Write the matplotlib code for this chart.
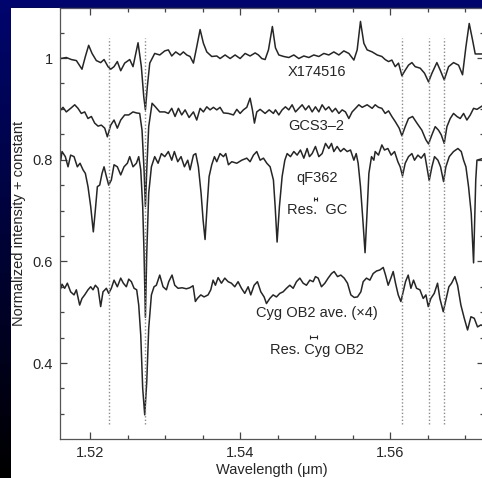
import numpy as np
import matplotlib
matplotlib.use('Agg')
import matplotlib.pyplot as plt
from matplotlib.patches import Rectangle
from matplotlib.ticker import MultipleLocator

plt.rcParams['font.family'] = ['Liberation Sans', 'DejaVu Sans']

# spectra (wavelength in um, normalized intensity + constant)
x174516_wl = [1.5161, 1.51684, 1.51751, 1.51818, 1.51893, 1.51938, 1.51982, 1.52027, 1.52084, 1.52142,
              1.52187, 1.5224, 1.52276, 1.5232, 1.52364, 1.52409, 1.52462, 1.52529, 1.52573, 1.5264,
              1.52684, 1.52716, 1.52738, 1.52764, 1.52796, 1.52862, 1.52929, 1.52996, 1.53044, 1.53089,
              1.53142, 1.532, 1.53244, 1.53289, 1.53333, 1.53378, 1.53422, 1.53467, 1.53511, 1.53556,
              1.53622, 1.53689, 1.53733, 1.538, 1.53867, 1.53933, 1.54, 1.54067, 1.54133, 1.542,
              1.54244, 1.54289, 1.54333, 1.54378, 1.5443, 1.54471, 1.54516, 1.54582, 1.54649, 1.54716,
              1.54782, 1.54849, 1.54916, 1.54982, 1.55049, 1.55116, 1.55182, 1.55249, 1.55316, 1.55382,
              1.55449, 1.55516, 1.5556, 1.55604, 1.55649, 1.55693, 1.5576, 1.55827, 1.55889, 1.55933,
              1.55978, 1.56022, 1.56067, 1.56111, 1.56156, 1.562, 1.56244, 1.56289, 1.56333, 1.564,
              1.56458, 1.56511, 1.56556, 1.56622, 1.56667, 1.5672, 1.56778, 1.56844, 1.56911, 1.56964,
              1.57009, 1.57053, 1.57098, 1.57133, 1.5725]
x174516_int = [0.999, 1.001, 0.997, 0.995, 0.978, 1.003, 1.025, 1.009, 0.995, 0.991,
               0.997, 0.983, 0.978, 0.983, 0.993, 0.975, 0.990, 0.997, 0.983, 1.030,
               0.983, 0.924, 0.898, 0.944, 0.990, 1.009, 1.006, 1.014, 1.016, 1.004,
               1.012, 1.006, 1.012, 1.006, 1.003, 0.990, 1.022, 1.056, 1.029, 1.012,
               1.003, 1.004, 0.999, 1.006, 0.999, 1.006, 0.999, 1.009, 1.004, 1.010,
               1.006, 0.999, 0.997, 1.016, 1.062, 1.020, 1.006, 1.003, 1.001, 1.006,
               0.999, 1.004, 1.001, 1.006, 1.003, 1.009, 1.006, 1.012, 1.006, 1.014,
               1.009, 0.996, 1.016, 1.072, 1.029, 1.016, 1.012, 1.006, 1.003, 0.997,
               0.993, 0.996, 0.983, 0.990, 0.965, 0.976, 0.986, 0.991, 0.983, 0.980,
               0.970, 0.953, 0.970, 0.991, 0.976, 0.957, 0.983, 0.991, 0.986, 0.967,
               1.022, 1.068, 1.035, 1.008, 1.008]

gcs3_wl = [1.5161, 1.5164, 1.51684, 1.51742, 1.51796, 1.5184, 1.51884, 1.51929, 1.51973, 1.52018,
           1.52062, 1.52107, 1.52151, 1.52196, 1.52231, 1.52276, 1.5232, 1.52364, 1.52409, 1.52462,
           1.52516, 1.52573, 1.52618, 1.52662, 1.52693, 1.5272, 1.52738, 1.52756, 1.52782, 1.52827,
           1.52871, 1.52929, 1.52996, 1.53044, 1.53089, 1.53133, 1.53178, 1.53222, 1.53267, 1.5332,
           1.53378, 1.53422, 1.53467, 1.53511, 1.53556, 1.536, 1.53644, 1.53689, 1.53733, 1.53778,
           1.53844, 1.53911, 1.53956, 1.54, 1.54044, 1.54089, 1.54133, 1.54164, 1.54191, 1.54222,
           1.54267, 1.54333, 1.54387, 1.54444, 1.54471, 1.54516, 1.5456, 1.54604, 1.54649, 1.54693,
           1.54738, 1.54782, 1.54827, 1.54871, 1.54916, 1.5496, 1.55004, 1.55049, 1.55093, 1.55138,
           1.55182, 1.55227, 1.55271, 1.55316, 1.5536, 1.55404, 1.55449, 1.55493, 1.55538, 1.55582,
           1.55627, 1.55693, 1.5576, 1.558, 1.55844, 1.55889, 1.55933, 1.55978, 1.56022, 1.56067,
           1.5612, 1.56156, 1.562, 1.56244, 1.56298, 1.56356, 1.56422, 1.56476, 1.56511, 1.56556,
           1.566, 1.56644, 1.5668, 1.5672, 1.56756, 1.568, 1.56844, 1.56889, 1.56933, 1.56978,
           1.57022, 1.57067, 1.57111, 1.57156, 1.5725]
gcs3_int = [0.898, 0.903, 0.894, 0.901, 0.908, 0.901, 0.891, 0.894, 0.881, 0.885,
            0.872, 0.866, 0.868, 0.862, 0.845, 0.868, 0.878, 0.862, 0.878, 0.888,
            0.888, 0.894, 0.892, 0.891, 0.858, 0.780, 0.708, 0.780, 0.865, 0.911,
            0.904, 0.894, 0.894, 0.891, 0.901, 0.885, 0.901, 0.888, 0.898, 0.883,
            0.894, 0.878, 0.901, 0.894, 0.904, 0.898, 0.903, 0.898, 0.903, 0.892,
            0.891, 0.888, 0.899, 0.891, 0.898, 0.903, 0.921, 0.898, 0.872, 0.894,
            0.899, 0.891, 0.898, 0.891, 0.898, 0.888, 0.898, 0.904, 0.898, 0.908,
            0.894, 0.901, 0.908, 0.898, 0.906, 0.894, 0.904, 0.894, 0.908, 0.898,
            0.904, 0.894, 0.901, 0.891, 0.898, 0.894, 0.881, 0.894, 0.901, 0.908,
            0.903, 0.908, 0.901, 0.908, 0.903, 0.901, 0.891, 0.896, 0.885, 0.875,
            0.862, 0.847, 0.865, 0.881, 0.885, 0.872, 0.858, 0.839, 0.831, 0.849,
            0.865, 0.858, 0.849, 0.832, 0.865, 0.881, 0.891, 0.885, 0.881, 0.891,
            0.878, 0.888, 0.901, 0.899, 0.908]

qf362_wl = [1.5161, 1.51627, 1.51671, 1.51707, 1.51742, 1.51787, 1.51831, 1.51867, 1.51907, 1.51938,
            1.51973, 1.52009, 1.52044, 1.52071, 1.52098, 1.52129, 1.5216, 1.52187, 1.52218, 1.52249,
            1.52284, 1.5232, 1.52364, 1.52409, 1.52453, 1.52498, 1.52529, 1.52573, 1.52618, 1.52649,
            1.52676, 1.52702, 1.5272, 1.52738, 1.52756, 1.52782, 1.52818, 1.52862, 1.52907, 1.52951,
            1.52996, 1.53044, 1.53089, 1.53124, 1.53169, 1.53213, 1.53258, 1.53302, 1.53333, 1.53378,
            1.53409, 1.53444, 1.5348, 1.53507, 1.53533, 1.5356, 1.53587, 1.53622, 1.53658, 1.53689,
            1.53733, 1.53778, 1.53809, 1.53844, 1.53889, 1.53956, 1.54022, 1.54089, 1.54133, 1.54178,
            1.54222, 1.54267, 1.54311, 1.54356, 1.544, 1.54444, 1.54467, 1.54493, 1.54524, 1.5456,
            1.54596, 1.54627, 1.54671, 1.54716, 1.5476, 1.54804, 1.54849, 1.54893, 1.54924, 1.5496,
            1.55004, 1.55049, 1.55093, 1.55138, 1.55182, 1.55218, 1.55249, 1.55293, 1.55338, 1.55382,
            1.55427, 1.55471, 1.55516, 1.55547, 1.55573, 1.55604, 1.55636, 1.55665, 1.55689, 1.55716,
            1.55751, 1.55782, 1.558, 1.55844, 1.55889, 1.55924, 1.55969, 1.56013, 1.56058,
            1.56102, 1.56133, 1.56164, 1.562, 1.56244, 1.56289, 1.56324, 1.56369, 1.56413, 1.56458,
            1.56489, 1.5652, 1.56556, 1.56591, 1.56636, 1.56671, 1.56711, 1.56742, 1.56787, 1.56844,
            1.56902, 1.56947, 1.56978, 1.57009, 1.57044, 1.5708, 1.57111, 1.5714, 1.57156, 1.5725]
qf362_int = [0.799, 0.816, 0.806, 0.786, 0.809, 0.806, 0.786, 0.793, 0.780, 0.773,
             0.747, 0.708, 0.658, 0.701, 0.747, 0.750, 0.773, 0.786, 0.767, 0.750,
             0.760, 0.790, 0.786, 0.770, 0.786, 0.793, 0.806, 0.786, 0.793, 0.806,
             0.780, 0.708, 0.616, 0.490, 0.616, 0.734, 0.786, 0.806, 0.793, 0.812,
             0.806, 0.816, 0.799, 0.816, 0.796, 0.806, 0.786, 0.799, 0.780, 0.809,
             0.812, 0.786, 0.734, 0.681, 0.643, 0.708, 0.767, 0.790, 0.806, 0.796,
             0.812, 0.806, 0.812, 0.790, 0.796, 0.793, 0.799, 0.803, 0.796, 0.809,
             0.816, 0.799, 0.803, 0.793, 0.786, 0.760, 0.708, 0.638, 0.708, 0.767,
             0.799, 0.812, 0.806, 0.816, 0.809, 0.819, 0.803, 0.822, 0.806, 0.812,
             0.826, 0.806, 0.812, 0.832, 0.822, 0.832, 0.816, 0.826, 0.816, 0.822,
             0.816, 0.819, 0.799, 0.812, 0.793, 0.747, 0.681, 0.617, 0.688, 0.773,
             0.806, 0.799, 0.816, 0.809, 0.829, 0.819, 0.822, 0.809, 0.816,
             0.796, 0.786, 0.768, 0.793, 0.806, 0.812, 0.799, 0.809, 0.803, 0.812,
             0.786, 0.759, 0.786, 0.806, 0.799, 0.786, 0.757, 0.786, 0.806, 0.816,
             0.822, 0.816, 0.799, 0.786, 0.747, 0.694, 0.597, 0.760, 0.799, 0.803]

cyg_wl = [1.5161, 1.51627, 1.51662, 1.51698, 1.51742, 1.51787, 1.51818, 1.51862, 1.51893, 1.51929,
          1.51973, 1.52009, 1.5204, 1.52071, 1.52107, 1.52142, 1.52173, 1.52218, 1.52249, 1.52284,
          1.5232, 1.52364, 1.52409, 1.52444, 1.52484, 1.52516, 1.52551, 1.52587, 1.52622, 1.52649,
          1.52676, 1.52702, 1.52729, 1.52756, 1.52782, 1.52818, 1.52853, 1.52884, 1.52929, 1.52973,
          1.53018, 1.53049, 1.53093, 1.53129, 1.53173, 1.53227, 1.53284, 1.53329, 1.53373, 1.53404,
          1.53431, 1.53476, 1.5352, 1.53573, 1.53609, 1.5364, 1.53671, 1.53707, 1.53751, 1.53796,
          1.5384, 1.53884, 1.53929, 1.53973, 1.54018, 1.54062, 1.54107, 1.54142, 1.54187, 1.54231,
          1.54276, 1.5432, 1.54351, 1.54396, 1.5444, 1.54484, 1.54529, 1.54573, 1.54618, 1.54662,
          1.54707, 1.54751, 1.54796, 1.5484, 1.54884, 1.54929, 1.54973, 1.55004, 1.5504, 1.55084,
          1.55129, 1.55173, 1.55218, 1.55253, 1.55298, 1.55342, 1.55387, 1.55431, 1.55476, 1.5552,
          1.55564, 1.55609, 1.5564, 1.55684, 1.55729, 1.55773, 1.55818, 1.55862, 1.55907, 1.55938,
          1.55973, 1.56009, 1.5604, 1.56071, 1.56107, 1.56142, 1.56173, 1.56204, 1.5624, 1.56276,
          1.56311, 1.56351, 1.56396, 1.5644, 1.56476, 1.56507, 1.56542, 1.56587, 1.56631, 1.56662,
          1.56707, 1.56738, 1.56782, 1.56818, 1.56862, 1.56898, 1.56942, 1.56987, 1.57031, 1.57076,
          1.5712, 1.57164, 1.57209, 1.5725]
cyg_int = [0.547, 0.555, 0.547, 0.557, 0.540, 0.534, 0.544, 0.514, 0.527, 0.534,
           0.544, 0.550, 0.544, 0.553, 0.547, 0.511, 0.540, 0.547, 0.537, 0.547,
           0.563, 0.550, 0.567, 0.557, 0.550, 0.565, 0.560, 0.547, 0.544, 0.514,
           0.455, 0.350, 0.298, 0.363, 0.468, 0.534, 0.550, 0.553, 0.573, 0.550,
           0.544, 0.560, 0.573, 0.553, 0.547, 0.548, 0.546, 0.548, 0.552, 0.521,
           0.527, 0.534, 0.530, 0.534, 0.544, 0.563, 0.553, 0.568, 0.557, 0.567,
           0.560, 0.557, 0.550, 0.560, 0.547, 0.537, 0.550, 0.534, 0.553, 0.560,
           0.540, 0.530, 0.517, 0.527, 0.534, 0.530, 0.537, 0.540, 0.547, 0.553,
           0.547, 0.560, 0.567, 0.557, 0.553, 0.563, 0.560, 0.570, 0.567, 0.550,
           0.557, 0.567, 0.576, 0.580, 0.570, 0.573, 0.567, 0.557, 0.534, 0.529,
           0.530, 0.540, 0.560, 0.567, 0.563, 0.576, 0.581, 0.583, 0.588, 0.573,
           0.553, 0.567, 0.580, 0.557, 0.534, 0.521, 0.540, 0.560, 0.573, 0.547,
           0.563, 0.547, 0.544, 0.527, 0.534, 0.511, 0.527, 0.537, 0.557, 0.527,
           0.501, 0.521, 0.550, 0.557, 0.570, 0.553, 0.514, 0.488, 0.465, 0.491,
           0.488, 0.471, 0.475, 0.472]

# diffuse band positions (dotted lines)
dib_wl = [1.52258, 1.52733, 1.5616, 1.5652, 1.5672]

labels = ['X174516', 'GCS3\u20132', 'qF362', 'Res.  GC', 'Cyg OB2 ave. (\u00d74)', 'Res. Cyg OB2']
label_y = [0.973, 0.866, 0.764, 0.701, 0.4985, 0.425]
label_x = 1.5502

# resolution bars: centre wavelength, level, half width
res_wl = [1.5500, 1.5498]
res_y = [0.722, 0.4505]
res_hw = [0.0002, 0.00045]

xticks = [1.52, 1.54, 1.56]
xticklabels = ['1.52', '1.54', '1.56']
yticks = [0.4, 0.6, 0.8, 1.0]
yticklabels = ['0.4', '0.6', '0.8', '1']

W, H = 482, 478
fig = plt.figure(figsize=(W / 100, H / 100), dpi=100)

# blue-to-black backdrop with white panel
bg = fig.add_axes([0, 0, 1, 1])
grad = np.linspace(0, 1, 256).reshape(-1, 1)
top = np.array([0.0, 0.02, 0.43])
cols = (grad[..., None] * top[None, None, :])
bg.imshow(cols, extent=[0, 1, 0, 1], aspect='auto', origin='lower')
bg.add_patch(Rectangle((11 / W, 0), 1, 1 - 8 / H, facecolor='white', edgecolor='none'))
bg.set_xlim(0, 1)
bg.set_ylim(0, 1)
bg.axis('off')

ax = fig.add_axes([60 / W, (H - 439) / H, 424 / W, 431 / H])
ax.set_facecolor('none')

line_kw = dict(color='#262626', lw=1.1)
ax.plot(x174516_wl, x174516_int, **line_kw)
ax.plot(gcs3_wl, gcs3_int, **line_kw)
ax.plot(qf362_wl, qf362_int, **line_kw)
ax.plot(cyg_wl, cyg_int, **line_kw)

for w in dib_wl:
    ax.plot([w, w], [0.28, 1.04], color='#8a8a8a', lw=1.0, ls=(0, (1, 1.5)))

for t, y in zip(labels, label_y):
    ax.text(label_x, y, t, ha='center', va='center', fontsize=10.5, color='#262626')

for w, y, hw in zip(res_wl, res_y, res_hw):
    ax.errorbar([w], [y], xerr=[hw], fmt='none', ecolor='#262626', elinewidth=0.8, capsize=1.2, capthick=0.8)

ax.set_xlim(1.516, 1.5725)
ax.set_ylim(0.2505, 1.0984)
ax.set_xticks(xticks, labels=xticklabels)
ax.set_yticks(yticks, labels=yticklabels)
ax.xaxis.set_minor_locator(MultipleLocator(0.005))
ax.yaxis.set_minor_locator(MultipleLocator(0.05))
ax.tick_params(which='both', direction='in', top=True, right=True, color='#444444',
               labelsize=10.5, labelcolor='#262626', pad=5)
ax.tick_params(which='major', length=5, width=0.9)
ax.tick_params(which='minor', length=3, width=0.9)
for s in ax.spines.values():
    s.set_color('#555555')
    s.set_linewidth(0.9)

ax.set_xlabel('Wavelength (\u03bcm)', fontsize=10.5, color='#262626', labelpad=2)
ax.set_ylabel('Normalized intensity + constant', fontsize=10.5, color='#262626', labelpad=5)

fig.savefig('out.png', dpi=100)
